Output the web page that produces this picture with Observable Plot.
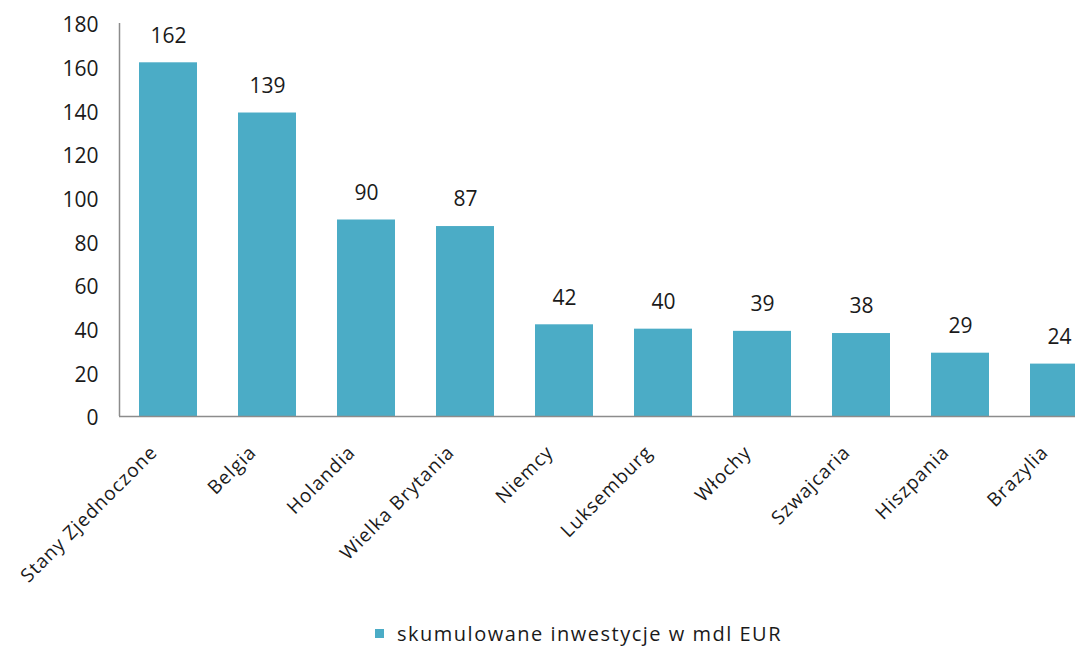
<!DOCTYPE html>
<html><head><meta charset="utf-8">
<script src="https://cdn.jsdelivr.net/npm/d3@7"></script>
<script src="https://cdn.jsdelivr.net/npm/@observablehq/plot@0.6"></script>
<style>
html,body{margin:0;padding:0;background:#fff;overflow:hidden;width:1075px;height:646px}
#chart{position:absolute;left:0;top:0;width:1108px}
#chart svg{max-width:none !important}
#legend{position:absolute;left:375px;top:620px;font-family:"Open Sans",sans-serif;font-size:20px;letter-spacing:1.5px;color:#1a1a1a;white-space:nowrap;display:flex;align-items:center}
#legend .sw{display:inline-block;width:9px;height:9px;background:#4BACC6;margin-right:13px}
</style></head><body>
<div id="chart"></div>
<div id="legend"><span class="sw"></span><span id="lt"></span></div>
<script>
const countries = ["Stany Zjednoczone","Belgia","Holandia","Wielka Brytania","Niemcy","Luksemburg","Włochy","Szwajcaria","Hiszpania","Brazylia"];
const values = [162,139,90,87,42,40,39,38,29,24];
const yTicks = [0,20,40,60,80,100,120,140,160,180];
const seriesName = "skumulowane inwestycje w mdl EUR";

const data = countries.map((c,i)=>({country:c, value:values[i]}));
const W = 1108, H = 600, ML = 119, MT = 23, MB = 184;
const axisColor = "#8c8c8c";
const textColor = "#1a1a1a";
const barColor = "#4BACC6";

const chart = Plot.plot({
  width: W, height: H,
  marginLeft: ML, marginRight: 0, marginTop: MT, marginBottom: MB,
  style: {fontFamily: "'Open Sans', sans-serif", color: textColor, background: "white", overflow: "visible"},
  x: {domain: countries, paddingInner: 0.415, paddingOuter: 0.19, axis: null},
  y: {domain: [0,180], ticks: yTicks, label: null},
  marks: [
    Plot.barY(data, {x: "country", y: "value", fill: barColor}),
    Plot.ruleY([0], {stroke: axisColor, strokeWidth: 1.5}),
    Plot.ruleX([0], {x: null, y1: 0, y2: 180, dx: -(W - ML) / 2, stroke: axisColor, strokeWidth: 1.5}),
    Plot.axisY({ticks: yTicks, tickSize: 0, tickPadding: 21, dy: 2, fontSize: 21, fill: textColor, label: null}),
    Plot.text(data, {x: "country", y: "value", text: d => String(d.value), dy: -27, fontSize: 21, fill: textColor}),
    Plot.text(countries, {x: d => d, frameAnchor: "bottom", rotate: -45, textAnchor: "end", dx: -10, dy: 37, fontSize: 19, fill: textColor})
  ]
});
d3.select(chart).selectAll("text").filter(function() { return countries.includes(this.textContent); }).attr("letter-spacing", 1);
document.getElementById("chart").appendChild(chart);
document.getElementById("lt").textContent = seriesName;
</script>
</body></html>
